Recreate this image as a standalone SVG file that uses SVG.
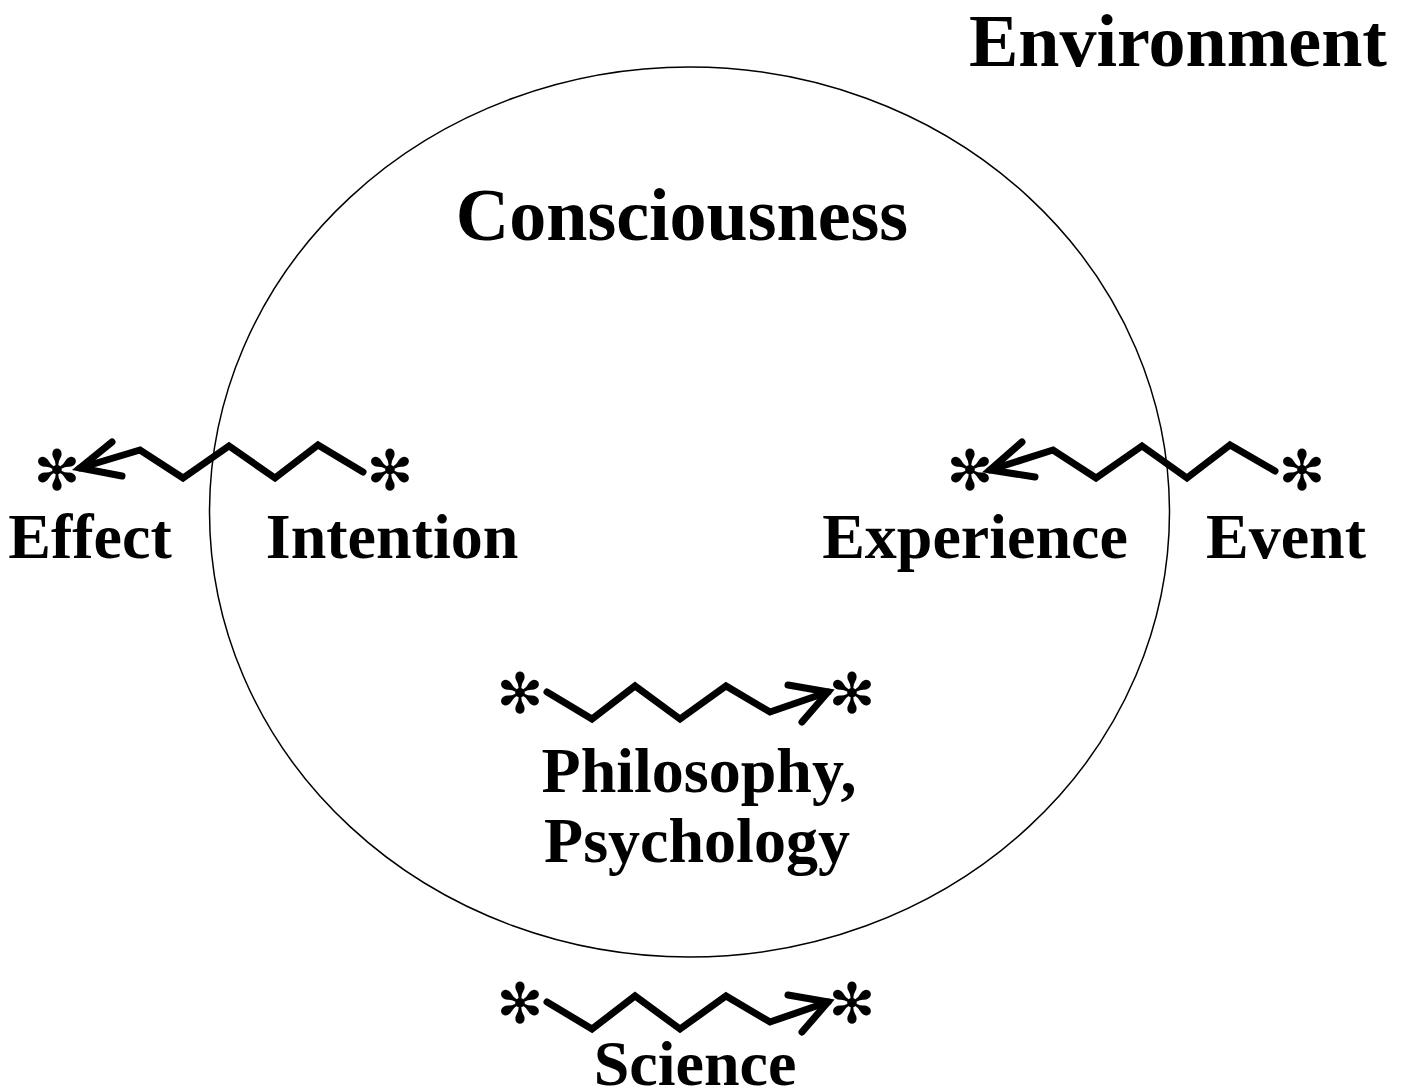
<svg xmlns="http://www.w3.org/2000/svg" width="1408" height="1091" viewBox="0 0 1408 1091">
<style>
.t{font-family:"Liberation Serif","Times New Roman",serif;font-weight:bold;fill:#000;text-anchor:middle}
.big{font-size:74px}
.lab{font-size:64px}
.ast{font-family:"DejaVu Sans",sans-serif;font-size:56px;fill:#000;text-anchor:middle;dominant-baseline:central}
.z{fill:none;stroke:#000;stroke-width:7;stroke-linejoin:miter;stroke-linecap:round}
</style>
<rect width="1408" height="1091" fill="#fff"/>
<g id="consciousness">
<ellipse cx="689.5" cy="512" rx="480" ry="445" fill="none" stroke="#000" stroke-width="1.5"/>
<text class="t big" x="682" y="240">Consciousness</text>
</g>
<g id="environment"><text class="t big" x="1178" y="66">Environment</text></g>
<g id="effect"><text class="t lab" x="90" y="558">Effect</text><text class="ast" x="57" y="470">✻</text></g>
<g id="intention"><text class="t lab" x="392" y="558">Intention</text><text class="ast" x="390" y="470">✻</text></g>
<g id="experience"><text class="t lab" x="975" y="558">Experience</text><text class="ast" x="970" y="470">✻</text></g>
<g id="event"><text class="t lab" x="1286" y="558">Event</text><text class="ast" x="1302" y="470">✻</text></g>
<g id="philosophy"><text class="ast" x="520" y="693">✻</text><text class="ast" x="852" y="693">✻</text>
<text class="t lab" x="699" y="792">Philosophy,</text><text class="t lab" x="697" y="862">Psychology</text></g>
<g id="science"><text class="ast" x="520" y="1003">✻</text><text class="ast" x="852" y="1003">✻</text>
<text class="t lab" x="695" y="1085">Science</text></g>
<g id="connectors">
<polyline class="z" points="363,472 318,445 275,478 229,446 183,478 140,450 80,468"/>
<polyline class="z" points="112,442 80,468 122,476"/>
<polyline class="z" points="1275,471 1230,445 1187,478 1142,446 1096,478 1053,450 990,470"/>
<polyline class="z" points="1022,442 990,470 1035,477"/>
<polyline class="z" points="547,692 592,719 635,686 680,719 726,686 770,712 828,692"/>
<polyline class="z" points="788,685 828,692 802,722"/>
<polyline class="z" points="547,1002 592,1029 635,996 680,1029 726,996 770,1022 828,1002"/>
<polyline class="z" points="788,995 828,1002 802,1032"/>
</g>
</svg>
